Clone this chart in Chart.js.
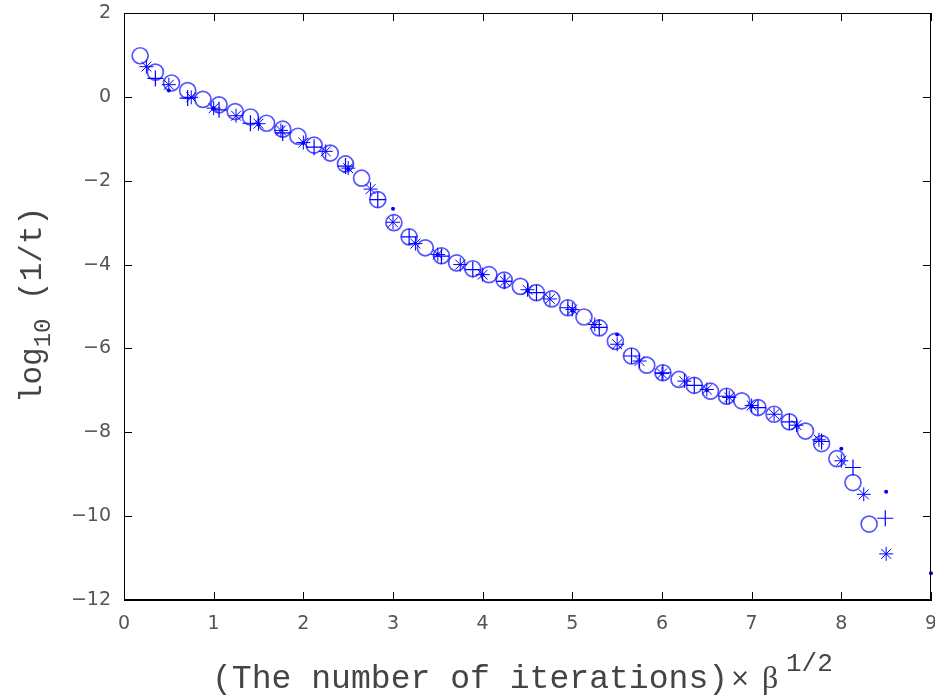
<!DOCTYPE html>
<html>
<head>
<meta charset="utf-8">
<script src="https://cdn.jsdelivr.net/npm/chart.js@4.4.1/dist/chart.umd.min.js"></script>
<style>
  html, body { margin: 0; padding: 0; background: #fff; }
  #wrap { width: 935px; height: 697px; }
</style>
</head>
<body>
<div id="wrap"><canvas id="myChart" width="935" height="697"></canvas></div>
<script>
// circles
const circleX = [0.18,0.35,0.53,0.71,0.88,1.06,1.24,1.41,1.59,1.77,1.94,2.12,2.30,2.47,2.65,2.83,3.01,3.18,3.36,3.54,3.71,3.89,4.07,4.24,4.42,4.60,4.77,4.95,5.13,5.30,5.48,5.66,5.83,6.01,6.19,6.36,6.54,6.72,6.89,7.07,7.25,7.42,7.60,7.78,7.95,8.13,8.31];
const circleY = [0.98,0.59,0.33,0.15,-0.06,-0.19,-0.35,-0.48,-0.63,-0.77,-0.94,-1.15,-1.34,-1.6,-1.94,-2.45,-3.0,-3.34,-3.6,-3.79,-3.96,-4.1,-4.24,-4.37,-4.52,-4.67,-4.82,-5.03,-5.25,-5.51,-5.83,-6.18,-6.4,-6.58,-6.74,-6.88,-7.02,-7.14,-7.25,-7.41,-7.57,-7.75,-7.97,-8.27,-8.63,-9.2,-10.19];
// plus marks
const plusX = [0.35,0.71,1.06,1.41,1.77,2.12,2.47,2.83,3.18,3.54,3.89,4.24,4.60,4.95,5.30,5.66,6.01,6.36,6.72,7.07,7.42,7.78,8.13,8.49];
const plusY = [0.44,-0.03,-0.31,-0.63,-0.86,-1.2,-1.65,-2.45,-3.34,-3.8,-4.12,-4.4,-4.67,-5.03,-5.5,-6.18,-6.58,-6.88,-7.14,-7.41,-7.75,-8.22,-8.84,-10.05];
// asterisks
const starX = [0.25,0.5,0.75,1.0,1.25,1.5,1.75,2.0,2.25,2.5,2.75,3.0,3.25,3.5,3.75,4.0,4.25,4.5,4.75,5.0,5.25,5.5,5.75,6.0,6.25,6.5,6.75,7.0,7.25,7.5,7.75,8.0,8.25,8.5];
const starY = [0.72,0.29,-0.01,-0.27,-0.45,-0.64,-0.8,-1.09,-1.3,-1.7,-2.2,-2.99,-3.5,-3.76,-4.0,-4.24,-4.4,-4.6,-4.82,-5.07,-5.43,-5.9,-6.3,-6.6,-6.78,-6.98,-7.17,-7.36,-7.57,-7.83,-8.18,-8.68,-9.48,-10.9];
// dots
const dotX = [0.5,1.0,1.5,2.0,2.5,3.0,3.5,4.0,4.5,5.0,5.5,6.0,6.5,7.0,7.5,8.0,8.5,9.0];
const dotY = [0.15,-0.27,-0.66,-1.1,-1.72,-2.67,-3.76,-4.24,-4.62,-5.1,-5.67,-6.6,-7.0,-7.38,-7.84,-8.39,-9.42,-11.36];

const xTicks = [0,1,2,3,4,5,6,7,8,9];
const yTicks = [2,0,-2,-4,-6,-8,-10,-12];

const pts = (xs, ys) => xs.map((x, i) => ({ x: x, y: ys[i] }));
const blue = "rgb(0,0,255)";
const tickFont = { family: "'DejaVu Sans', sans-serif", size: 19 };

const frame = {
  id: "frame",
  afterDraw(chart) {
    const ctx = chart.ctx;
    const a = chart.chartArea;
    const sx = chart.scales.x, sy = chart.scales.y;
    const L = 8;
    ctx.save();
    ctx.strokeStyle = "#000";
    ctx.lineWidth = 1;
    ctx.strokeRect(Math.round(a.left) + 0.5, Math.round(a.top) + 0.5,
      Math.round(a.right - a.left) - 1, Math.round(a.bottom - a.top) - 1);
    ctx.beginPath();
    xTicks.forEach((v) => {
      const p = Math.round(sx.getPixelForValue(v)) + 0.5;
      ctx.moveTo(p, a.bottom); ctx.lineTo(p, a.bottom - L);
      ctx.moveTo(p, a.top); ctx.lineTo(p, a.top + L);
    });
    yTicks.forEach((v) => {
      const p = Math.round(sy.getPixelForValue(v)) + 0.5;
      ctx.moveTo(a.left, p); ctx.lineTo(a.left + L, p);
      ctx.moveTo(a.right, p); ctx.lineTo(a.right - L, p);
    });
    ctx.stroke();

    // x tick labels
    ctx.fillStyle = "#555";
    ctx.font = "19px 'DejaVu Sans', sans-serif";
    ctx.textAlign = "center";
    ctx.textBaseline = "middle";
    xTicks.forEach((v) => {
      ctx.fillText(String(v), sx.getPixelForValue(v), a.bottom + 24);
    });

    // x title
    ctx.fillStyle = "#444";
    ctx.textBaseline = "alphabetic";
    ctx.textAlign = "left";
    const by = 688;
    const t1 = "(The number of iterations)";
    ctx.font = "32px 'Liberation Mono', monospace";
    const fs = 32 * 516 / ctx.measureText(t1).width;
    ctx.font = fs.toFixed(1) + "px 'Liberation Mono', monospace";
    ctx.fillText(t1, 212, by);
    ctx.font = "24px 'DejaVu Sans', sans-serif";
    ctx.fillText("×", 730, by - 2);
    ctx.font = "32px 'Liberation Serif', serif";
    ctx.fillText("β", 762, by);
    ctx.font = "26px 'Liberation Mono', monospace";
    ctx.fillText("1/2", 786, by - 17);

    // y title
    ctx.save();
    ctx.translate(41, 305);
    ctx.rotate(-Math.PI / 2);
    ctx.font = "31px 'Liberation Mono', monospace";
    const w1 = ctx.measureText("log").width;
    const w3 = ctx.measureText(" (1/t)").width;
    ctx.font = "24px 'Liberation Mono', monospace";
    const w2 = ctx.measureText("10").width;
    let s = -(w1 + w2 + w3) / 2;
    ctx.font = "31px 'Liberation Mono', monospace";
    ctx.fillText("log", s, 0);
    s += w1;
    ctx.font = "24px 'Liberation Mono', monospace";
    ctx.fillText("10", s, 9);
    s += w2;
    ctx.font = "31px 'Liberation Mono', monospace";
    ctx.fillText(" (1/t)", s, 0);
    ctx.restore();
    ctx.restore();
  }
};

const ctx = document.getElementById("myChart").getContext("2d");
const chart = new Chart(ctx, {
  type: "scatter",
  data: {
    datasets: [
      {
        label: "dots",
        data: pts(dotX, dotY),
        pointStyle: "circle",
        pointRadius: 2,
        backgroundColor: blue,
        borderColor: blue,
        borderWidth: 0,
        clip: 4,
      },
      {
        label: "asterisk",
        data: pts(starX, starY),
        pointStyle: "star",
        pointRadius: 7,
        borderColor: blue,
        borderWidth: 1,
      },
      {
        label: "plus",
        data: pts(plusX, plusY),
        pointStyle: "cross",
        pointRadius: 8,
        borderColor: blue,
        borderWidth: 1.2,
      },
      {
        label: "circle",
        data: pts(circleX, circleY),
        pointStyle: "circle",
        pointRadius: 8,
        backgroundColor: "rgba(0,0,0,0)",
        borderColor: "rgba(20,20,255,0.72)",
        borderWidth: 1.7,
      },
    ],
  },
  options: {
    responsive: false,
    animation: false,
    layout: { autoPadding: false, padding: { left: 0, right: 4, top: 13, bottom: 0 } },
    plugins: {
      legend: { display: false },
      tooltip: { enabled: false },
    },
    scales: {
      x: {
        type: "linear",
        min: 0,
        max: 9,
        afterFit: (scale) => {
          scale.height = 97;
          scale.paddingLeft = 0;
          scale.paddingRight = 0;
        },
        afterBuildTicks: (scale) => { scale.ticks = xTicks.map((v) => ({ value: v })); },
        grid: { drawOnChartArea: false, drawTicks: false },
        border: { display: true, color: "#000" },
        ticks: { display: false },
      },
      y: {
        type: "linear",
        min: -12,
        max: 2,
        afterFit: (scale) => {
          scale.width = 124;
          scale.paddingTop = 0;
          scale.paddingBottom = 0;
        },
        afterBuildTicks: (scale) => { scale.ticks = yTicks.map((v) => ({ value: v })); },
        grid: { drawOnChartArea: false, drawTicks: false },
        border: { display: true, color: "#000" },
        ticks: {
          padding: 13,
          color: "#555",
          font: tickFont,
          callback: (v) => (v < 0 ? "\u2212" + Math.abs(v) : String(v)),
        },
      },
    },
  },
  plugins: [frame],
});
</script>
</body>
</html>
